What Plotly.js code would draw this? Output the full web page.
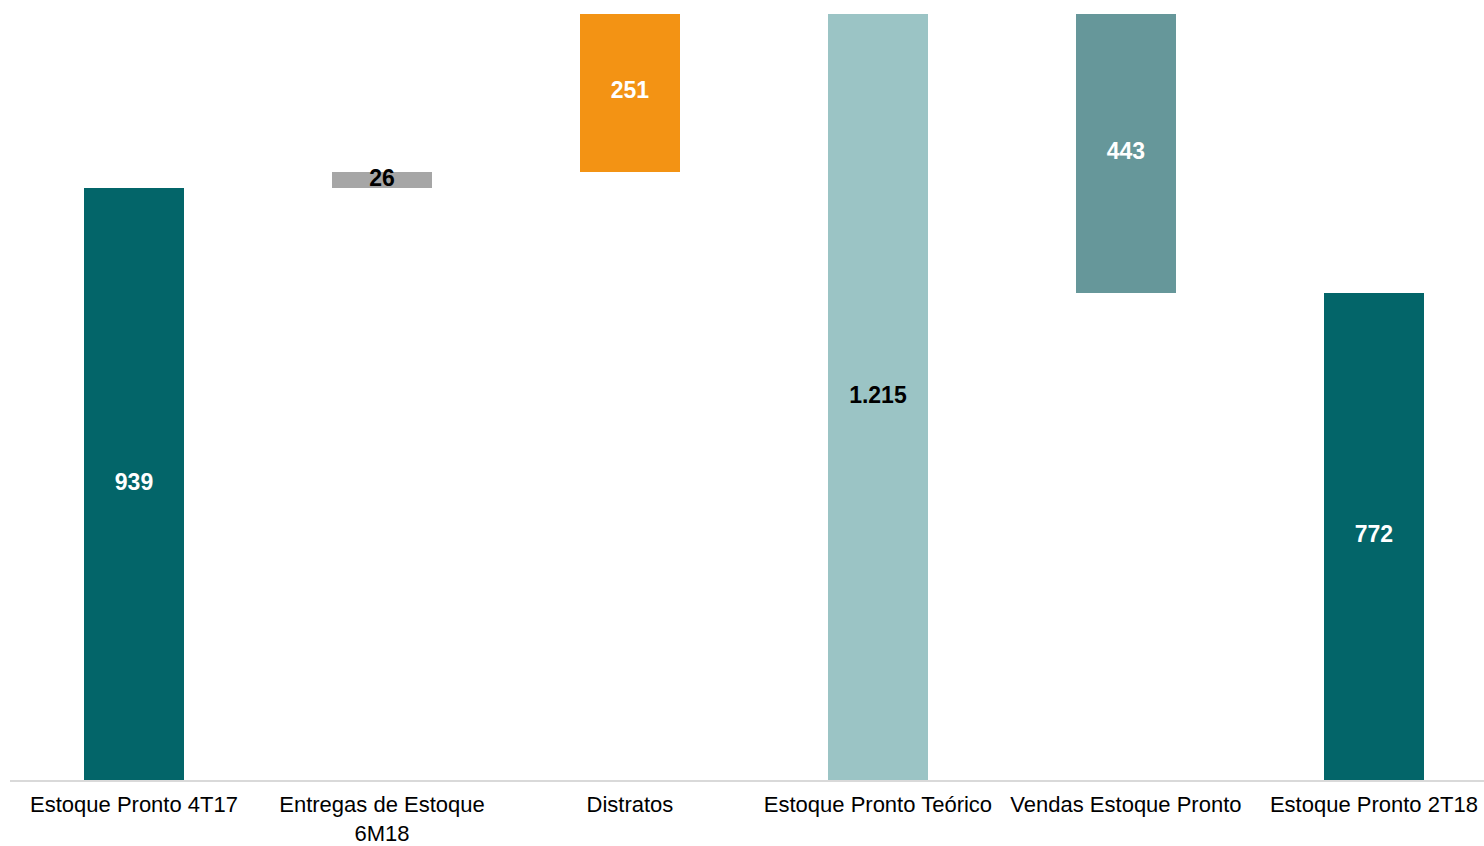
<!DOCTYPE html>
<html>
<head>
<meta charset="utf-8">
<script src="https://cdn.plot.ly/plotly-3.0.1.min.js"></script>
<style>
html,body{margin:0;padding:0;background:#fff;}
#chart{width:1484px;height:846px;}
</style>
</head>
<body>
<div id="chart"></div>
<script>
const categories = ["Estoque Pronto 4T17", "Entregas de Estoque<br>6M18", "Distratos", "Estoque Pronto Teórico", "Vendas Estoque Pronto", "Estoque Pronto 2T18"];
const values = [939, 26, 251, 1215, -443, 772];
const measures = ["absolute", "relative", "relative", "total", "relative", "total"];
const labels = ["939", "26", "251", "1.215", "443", "772"];
const barColors = ["#036569", "#A6A6A6", "#F39314", "#9BC4C5", "#66979A", "#036569"];
const labelColors = ["#FFFFFF", "#000000", "#FFFFFF", "#000000", "#FFFFFF", "#FFFFFF"];

// compute bases and heights from the data
const bases = [], heights = [], mids = [];
let running = 0;
values.forEach((v, i) => {
  let b, h;
  if (measures[i] === "absolute" || measures[i] === "total") {
    b = 0; h = v; running = v;
  } else {
    if (v >= 0) { b = running; h = v; }
    else { b = running + v; h = -v; }
    running += v;
  }
  bases.push(b); heights.push(h); mids.push(b + h / 2);
});

const barTrace = {
  type: "bar",
  x: categories,
  y: heights,
  base: bases,
  width: 0.403,
  marker: { color: barColors },
  hoverinfo: "skip",
  showlegend: false
};

const textTrace = {
  type: "scatter",
  mode: "text",
  x: categories,
  y: mids,
  text: labels,
  textposition: "middle center",
  textfont: { family: "Liberation Sans, Arial, sans-serif", size: 23, color: labelColors, weight: "bold" },
  hoverinfo: "skip",
  showlegend: false
};

const layout = {
  width: 1484,
  height: 846,
  margin: { l: 10, r: 0, t: 14, b: 66 },
  paper_bgcolor: "#FFFFFF",
  plot_bgcolor: "#FFFFFF",
  font: { family: "Liberation Sans, Arial, sans-serif", size: 22, color: "#000000" },
  xaxis: {
    type: "category",
    range: [-0.5, 5.444],
    showline: true,
    linecolor: "#D9D9D9",
    linewidth: 2,
    ticks: "",
    ticklabelstandoff: 4,
    showgrid: false,
    zeroline: false,
    tickfont: { family: "Liberation Sans, Arial, sans-serif", size: 22, color: "#000000" }
  },
  yaxis: {
    range: [0, 1215],
    visible: false,
    showgrid: false,
    zeroline: false
  },
  bargap: 0
};

Plotly.newPlot("chart", [barTrace, textTrace], layout, { displayModeBar: false, staticPlot: true });
</script>
</body>
</html>
